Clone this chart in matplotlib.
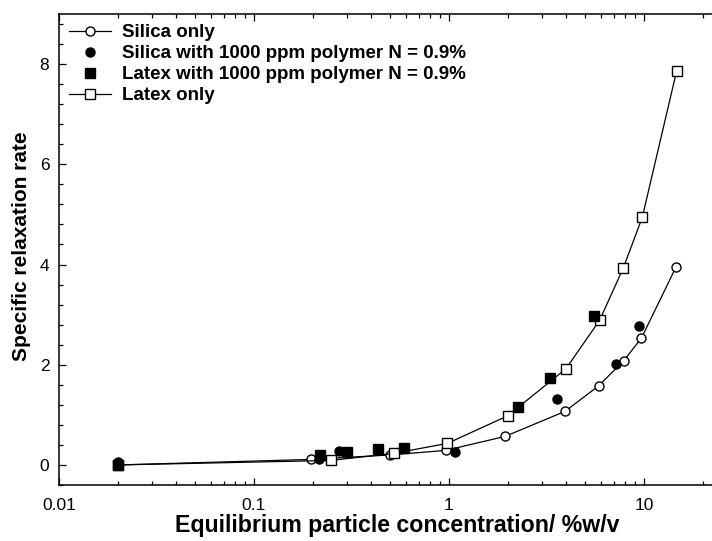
import matplotlib
matplotlib.use("Agg")
import matplotlib.pyplot as plt
from matplotlib.ticker import FixedLocator, FixedFormatter, LogLocator, MultipleLocator, NullFormatter

plt.rcParams['font.family'] = ['Liberation Sans', 'DejaVu Sans']

# Data
silica_x = [0.02, 0.195, 0.5, 0.96, 1.94, 3.94, 5.86, 7.87, 9.7, 14.6]
silica_y = [0.0, 0.11, 0.2, 0.29, 0.57, 1.07, 1.58, 2.08, 2.53, 3.95]

latex_x = [0.02, 0.247, 0.52, 0.98, 2.0, 3.98, 5.93, 7.83, 9.8, 14.7]
latex_y = [0.0, 0.09, 0.23, 0.43, 0.98, 1.92, 2.89, 3.93, 4.94, 7.86]

silica_poly_x = [0.02, 0.216, 0.273, 1.08, 3.56, 7.2, 9.4]
silica_poly_y = [0.05, 0.11, 0.27, 0.25, 1.31, 2.02, 2.77]

latex_poly_x = [0.02, 0.218, 0.3, 0.43, 0.59, 2.26, 3.31, 5.56]
latex_poly_y = [0.0, 0.19, 0.25, 0.31, 0.33, 1.16, 1.74, 2.97]

labels = ["Silica only",
          "Silica with 1000 ppm polymer N = 0.9%",
          "Latex with 1000 ppm polymer N = 0.9%",
          "Latex only"]

x_ticks = [0.01, 0.1, 1, 10]
x_ticklabels = ["0.01", "0.1", "1", "10"]

fig = plt.figure(figsize=(7.12, 5.41), dpi=100)
ax = fig.add_axes([59/712, 56/541, 678/712, 471/541])

ms = 6.5
lw = 0.9
h1, = ax.plot(silica_x, silica_y, '-o', color='black', lw=lw, ms=ms,
              mfc='white', mec='black', mew=1.0, zorder=2, label=labels[0])
h4, = ax.plot(latex_x, latex_y, '-s', color='black', lw=lw, ms=ms,
              mfc='white', mec='black', mew=1.0, zorder=2, label=labels[3])
h2, = ax.plot(silica_poly_x, silica_poly_y, 'o', color='black', ms=ms,
              mfc='black', mec='black', zorder=3, label=labels[1])
h3, = ax.plot(latex_poly_x, latex_poly_y, 's', color='black', ms=ms,
              mfc='black', mec='black', zorder=3, label=labels[2])

ax.set_xscale('log')
ax.set_xlim(0.01, 30)
ax.set_ylim(-0.4, 9.0)

ax.xaxis.set_major_locator(FixedLocator(x_ticks))
ax.xaxis.set_major_formatter(FixedFormatter(x_ticklabels))
ax.xaxis.set_minor_locator(LogLocator(base=10, subs=range(2, 10), numticks=20))
ax.xaxis.set_minor_formatter(NullFormatter())
ax.yaxis.set_major_locator(MultipleLocator(2))
ax.yaxis.set_minor_locator(MultipleLocator(0.4))

ax.tick_params(which='both', direction='in', top=True, right=True, width=0.9)
ax.tick_params(which='major', length=5)
ax.tick_params(which='minor', length=3)
ax.tick_params(axis='x', which='major', labelsize=12.5, pad=9)
ax.tick_params(axis='y', which='major', labelsize=12.5, pad=7)

for sp in ax.spines.values():
    sp.set_linewidth(1.1)

ax.set_xlabel("Equilibrium particle concentration/ %w/v", fontsize=16.7, fontweight='bold')
ax.set_ylabel("Specific relaxation rate", fontsize=15, fontweight='bold')
ax.xaxis.set_label_coords((397 - 59) / 678, -(525.7 - 485) / 471)
ax.xaxis.label.set_va('center')
ax.yaxis.set_label_coords(-(59 - 22) / 678, (485 - 246) / 471)
ax.yaxis.label.set_va('center')

leg = ax.legend(handles=[h1, h2, h3, h4], loc='upper left', frameon=False,
                prop={'weight': 'bold', 'size': 13.5}, handlelength=2.2,
                handletextpad=0.6, labelspacing=0.2, borderaxespad=0.15,
                bbox_to_anchor=(0.0, 1.0))

fig.savefig("out.png", dpi=100)
